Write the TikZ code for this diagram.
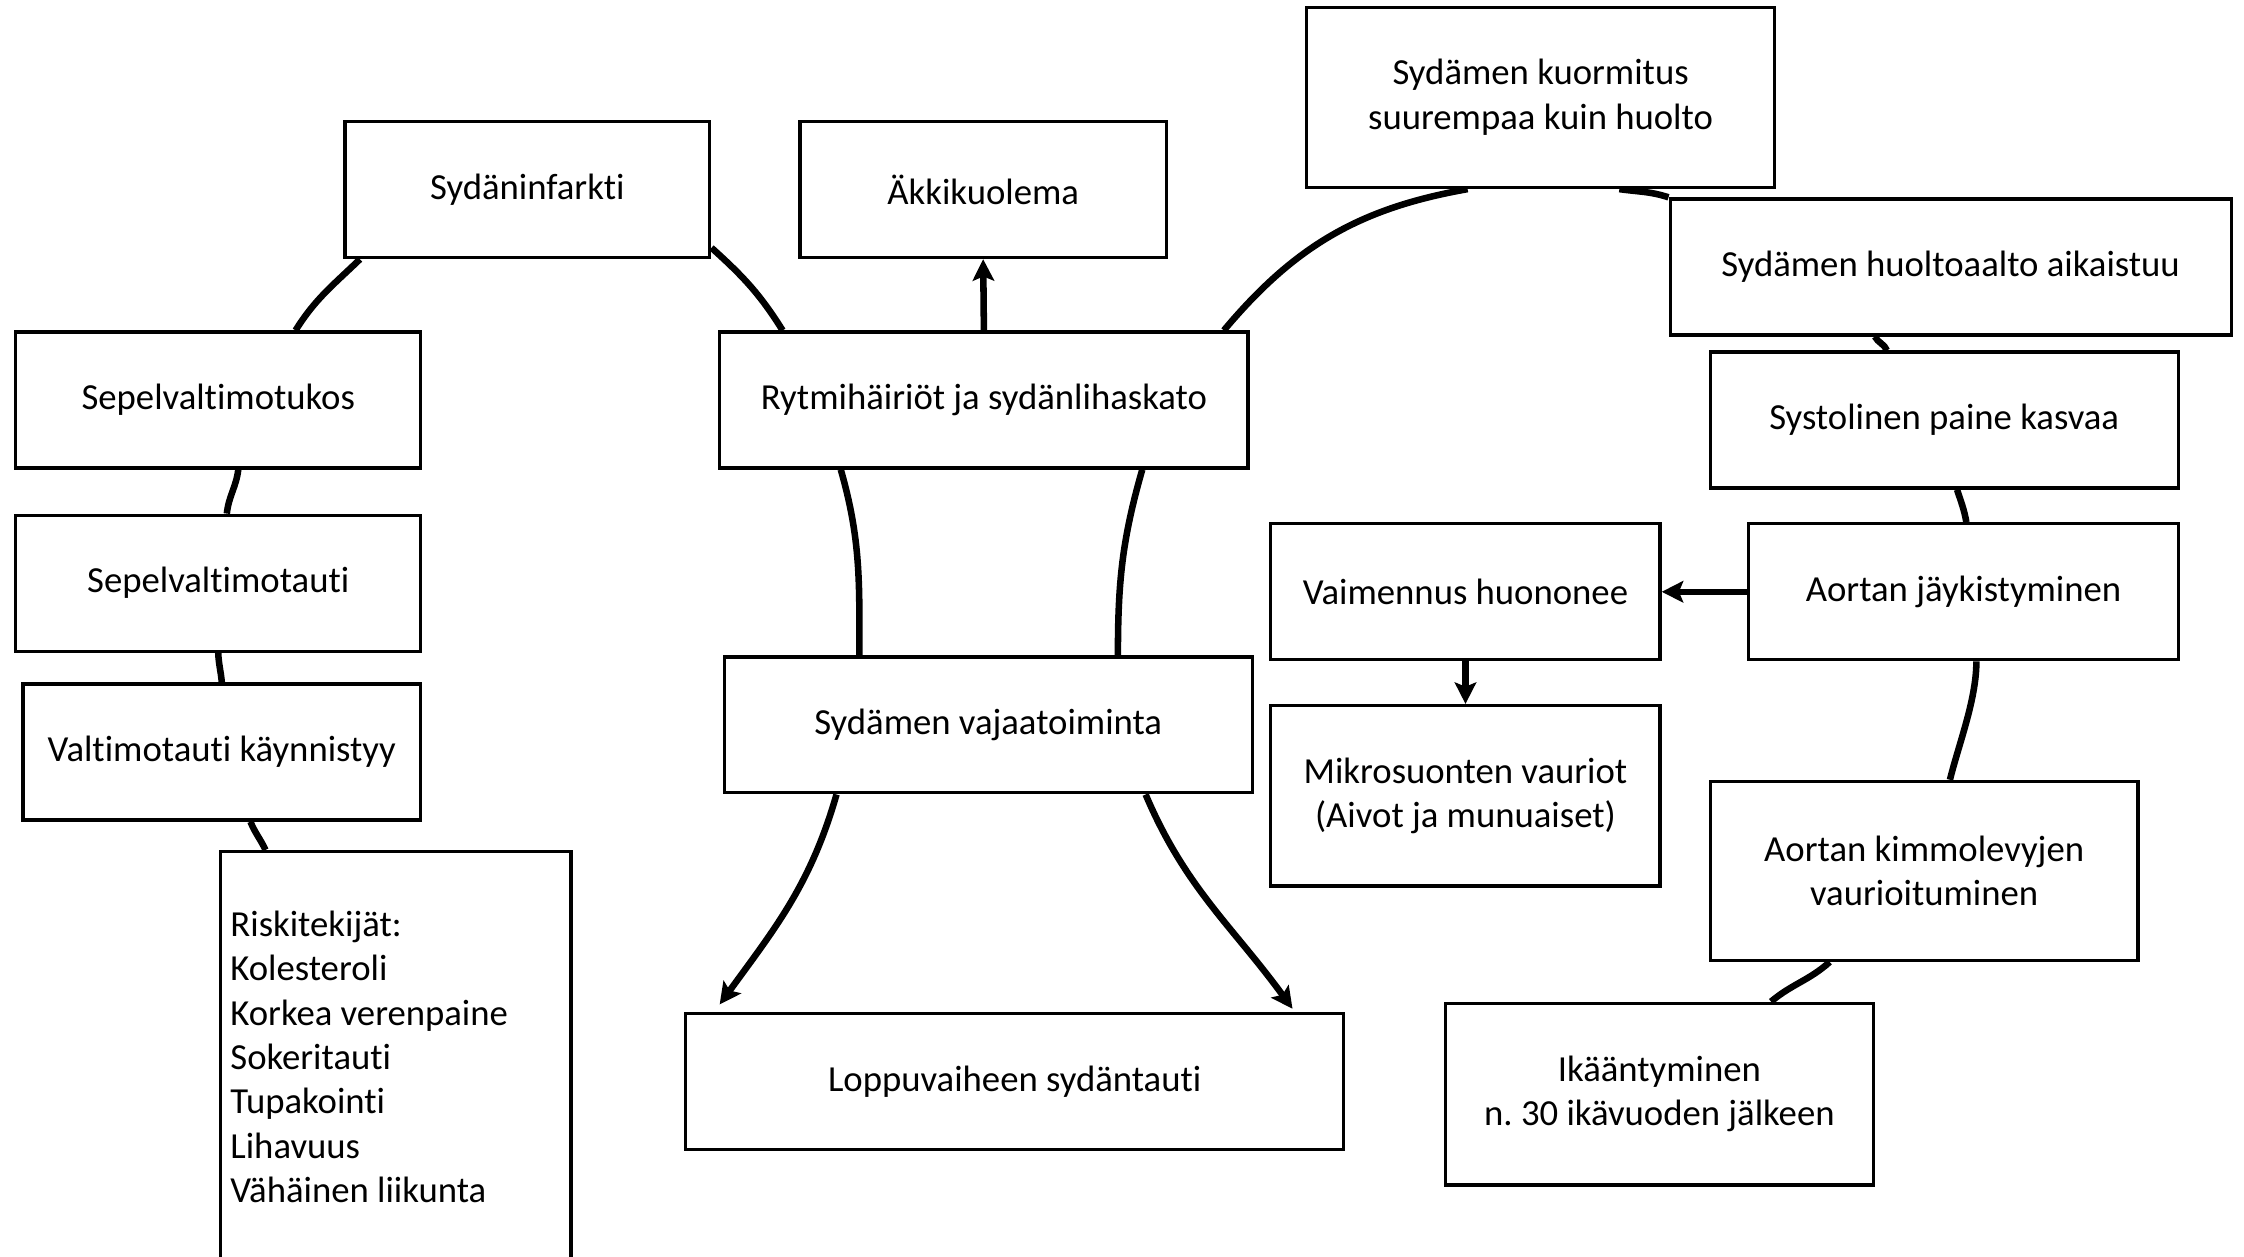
\documentclass[tikz,border=0pt]{standalone}
\usepackage{fontspec}
\setmainfont{Carlito}[Ligatures=NoCommon]
\frenchspacing
\usetikzlibrary{arrows.meta,calc,backgrounds}

\begin{document}
\begin{tikzpicture}[
            x=0.2mm, y=-0.2mm,
            every node/.style={draw, fill=white, line width=1.3pt, inner sep=0pt,
                minimum height=19mm, align=center,
                font=\fontsize{14.6}{17.6}\selectfont},
            link/.style={line width=2.6pt},
            pointer/.style={-{Stealth[length=3mm,width=3mm,inset=0.6mm]}},
            % tall/.style = {minimum height=25.2mm},
            ]
            \clip (0,0) rectangle (1568,878);

            \node[minimum width=51mm] (infarkti) at (368.5,132.5) {Sydäninfarkti};
            \node[minimum width=51.2mm] (akki) at (687,132.5) {Äkkikuolema};
            \node[minimum width=65.4mm, minimum height=25.2mm] (kuormitus) at (1076.5,68)
                {Sydämen kuormitus\\suurempaa kuin huolto};
            \node[minimum width=78.4mm] (huolto) at (1363,186.5) {Sydämen huoltoaalto aikaistuu};
            \node[minimum width=56.6mm] (tukos) at (152.5,279.5) {Sepelvaltimotukos};
            \node[minimum width=73.8mm] (rytmi) at (687.5,279.5) {Rytmihäiriöt ja sydänlihaskato};
            \node[minimum width=65.4mm] (systolinen) at (1358.5,293.5) {Systolinen paine kasvaa};
            \node[minimum width=56.6mm] (sepel) at (152.5,407.5) {Sepelvaltimotauti};
            \node[minimum width=54.4mm] (vaimennus) at (1024,413.5) {Vaimennus huononee};
            \node[minimum width=60mm] (aortta) at (1372,413.5) {Aortan jäykistyminen};
            \node[minimum width=55.6mm] (valtimo) at (155,525.5) {Valtimotauti käynnistyy};
            \node[minimum width=73.8mm] (vajaa) at (690.5,506.5) {Sydämen vajaatoiminta};
            \node[minimum width=54.4mm, minimum height=25.2mm] (mikro) at (1024,556)
                {Mikrosuonten vauriot\\(Aivot ja munuaiset)};
            \node[minimum width=59.8mm, minimum height=25mm] (kimmo) at (1344.5,608.5)
                {Aortan kimmolevyjen\\vaurioituminen};
            \node[minimum height=57.4mm, text width=46.2mm, inner xsep=1.4mm, align=flush left]
                (riski) at (276.5,738.5)
                {Riskitekijät:\\Kolesteroli\\Korkea verenpaine\\Sokeritauti\\Tupakointi\\Lihavuus\\Vähäinen liikunta};
            \node[minimum width=92mm] (loppu) at (709,755.5) {Loppuvaiheen sydäntauti};
            \node[minimum width=59.8mm, minimum height=25.4mm] (ika) at (1159.5,764.5)
                {Ikääntyminen\\n. 30 ikävuoden jälkeen};

            \begin{scope}[on background layer]
                \draw[link] ($(infarkti.south)+(-117,0)$) to[out=224,in=58] ($(tukos.north)+(54,0)$);
                \draw[link] ($(tukos.south)+(14,0)$) to[out=263,in=84] ($(sepel.north)+(6,0)$);
                \draw[link] (sepel.south) to[out=272,in=95] (valtimo.north);
                \draw[link] ($(valtimo.south)+(20,0)$) to[out=292,in=115] ($(riski.north)+(-91,0)$);
                \draw[link] ($(infarkti.south east)+(0,-8)$) to[out=-42,in=122] ($(rytmi.north west)+(45,0)$);
                \draw[link] ($(rytmi.south)+(-100,0)$) to[out=-74,in=90] ($(vajaa.north)+(-90,0)$);
                \draw[link] ($(rytmi.south east)+(-75,0)$) to[out=-106,in=90] ($(vajaa.north east)+(-95,0)$);
                \draw[link] ($(rytmi.north east)+(-18,0)$) to[out=50,in=190] ($(kuormitus.south)+(-51,0)$);
                \draw[link] ($(kuormitus.south)+(55,0)$) to[out=-8,in=162] (huolto.north west);
                \draw[link] ($(huolto.south)+(-53,0)$) to[out=-62,in=112] ($(systolinen.north)+(-40,0)$);
                \draw[link] ($(systolinen.south)+(9,0)$) to[out=-72,in=100] ($(aortta.north)+(2,0)$);
                \draw[link] ($(aortta.south)+(9,0)$) to[out=-90,in=76,looseness=0.8] ($(kimmo.north)+(18,0)$);
                \draw[link] ($(kimmo.south)+(-66,0)$) to[out=222,in=40] ($(ika.north)+(78,0)$);

                \draw[link, pointer] ($(vajaa.south)+(-106,0)$) to[out=254,in=54] ($(loppu.north west)+(25,-5)$);
                \draw[link, pointer] ($(vajaa.south)+(110,0)$) to[out=-67,in=126] ($(loppu.north east)+(-37,-2)$);
                \draw[link, pointer] (rytmi.north) -- (akki.south);
                \draw[link, pointer] (aortta.west) -- (vaimennus.east);
                \draw[link, pointer] (vaimennus.south) -- (mikro.north);
            \end{scope}
        \end{tikzpicture}
\end{document}
